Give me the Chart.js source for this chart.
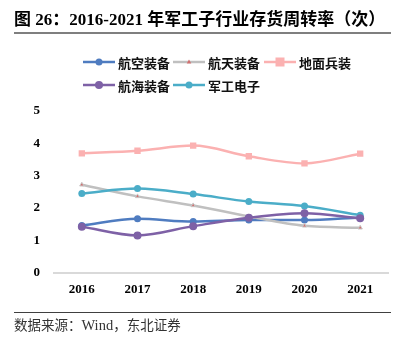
<!DOCTYPE html>
<html>
<head>
<meta charset="utf-8">
<script src="https://cdn.jsdelivr.net/npm/chart.js@4"></script>
<style>
  html, body { margin: 0; padding: 0; background: #fff; }
  #wrap { position: relative; width: 401px; height: 346px; overflow: hidden; }
  #title { position: absolute; left: 14px; top: 5px; font: bold 17px "Liberation Serif", "Noto Sans CJK SC", serif; color: #000; white-space: nowrap; }
  #title .cjk { font-family: "Noto Sans CJK SC", sans-serif; font-weight: bold; }
  #rule1 { position: absolute; left: 14px; top: 32px; width: 377px; height: 0; border-top: 2px solid #7f7f7f; }
  #rule2 { position: absolute; left: 14px; top: 312px; width: 377px; height: 0; border-top: 1px solid #404040; }
  #source { position: absolute; left: 14px; top: 314px; font: 13.5px "Noto Sans CJK SC", sans-serif; color: #333; white-space: nowrap; }
  #source .lat { font-family: "Liberation Serif", serif; font-size: 14.5px; }
  #legend { position: absolute; left: 0; top: 0; width: 401px; height: 100px; }
  .item { position: absolute; height: 16px; display: flex; align-items: center; }
  .item canvas { display: block; }
  .item span { margin-left: 3px; font: bold 13px "Noto Sans CJK SC", sans-serif; color: #111; white-space: nowrap; }
  #chartBox { position: absolute; left: 0; top: 0; width: 401px; height: 346px; }
</style>
</head>
<body>
<div id="wrap">
  <div id="chartBox"><canvas id="c" width="401" height="346"></canvas></div>
  <div id="title"><span class="cjk">图</span> 26<span class="cjk">：</span>2016-2021 <span class="cjk">年军工子行业存货周转率（次）</span></div>
  <div id="rule1"></div>
  <div id="legend"></div>
  <div id="rule2"></div>
  <div id="source">数据来源：<span class="lat">Wind</span>，东北证券</div>
</div>
<script>
// Years on the category axis
const years = ['2016', '2017', '2018', '2019', '2020', '2021'];

// Inventory turnover (times) by sub-sector
const aviation   = [1.46, 1.67, 1.58, 1.63, 1.63, 1.71]; // 航空装备
const aerospace  = [2.72, 2.36, 2.08, 1.74, 1.45, 1.39]; // 航天装备
const groundArms = [3.69, 3.77, 3.93, 3.60, 3.38, 3.68]; // 地面兵装
const naval      = [1.42, 1.15, 1.44, 1.70, 1.84, 1.68]; // 航海装备
const electronics= [2.45, 2.60, 2.43, 2.20, 2.06, 1.78]; // 军工电子

// Y axis ticks
const yTicks = [0, 1, 2, 3, 4, 5];

const series = [
  { name: '航空装备', data: aviation,    color: '#4f7cc0', style: 'circle',   r: 3.5, pointColor: '#4f7cc0' },
  { name: '航天装备', data: aerospace,   color: '#c0c0c0', style: 'triangle', r: 2.5, pointColor: '#d07070' },
  { name: '地面兵装', data: groundArms,  color: '#fbb1b1', style: 'rect',     r: 4.5, pointColor: '#fbb1b1' },
  { name: '航海装备', data: naval,       color: '#7e61a6', style: 'circle',   r: 4,   pointColor: '#7e61a6' },
  { name: '军工电子', data: electronics, color: '#4badc8', style: 'circle',   r: 3.5, pointColor: '#4badc8' }
];

const datasets = series.map((s, i) => ({
  label: s.name,
  data: s.data,
  borderColor: s.color,
  backgroundColor: s.pointColor,
  pointBorderColor: s.style === 'triangle' ? '#c8c8c8' : s.pointColor,
  pointBackgroundColor: s.pointColor,
  pointStyle: s.style,
  pointRadius: s.r,
  pointBorderWidth: s.style === 'triangle' ? 1 : 0,
  borderWidth: 2.5,
  tension: 0.4,
  cubicInterpolationMode: 'monotone',
  order: [4, 3, 5, 1, 2][i]
}));

new Chart(document.getElementById('c'), {
  type: 'line',
  data: { labels: years, datasets },
  options: {
    responsive: false,
    animation: false,
    layout: { padding: { left: 0, right: 13, top: 111, bottom: 0 } },
    plugins: { legend: { display: false }, tooltip: { enabled: false } },
    scales: {
      x: {
        offset: true,
        grid: { display: false },
        border: { display: true, color: '#d9d9d9', width: 2 },
        ticks: { color: '#000', padding: 1, font: { family: 'Liberation Serif', weight: 'bold', size: 13 } },
        afterFit: (s) => { s.height = 73.3; }
      },
      y: {
        min: 0, max: 5,
        afterBuildTicks: (s) => { s.ticks = yTicks.map(v => ({ value: v })); },
        grid: { display: false },
        border: { display: false },
        ticks: { color: '#000', padding: 6, font: { family: 'Liberation Serif', weight: 'bold', size: 13 } },
        afterFit: (s) => { s.width = 54; }
      }
    }
  }
});

// Legend: line sample with marker, arranged in two rows
const legend = document.getElementById('legend');
const slots = [[83, 54], [173, 54], [264, 54], [83, 77], [173, 77]];
series.forEach((s, i) => {
  const div = document.createElement('div');
  div.className = 'item';
  div.style.left = slots[i][0] + 'px';
  div.style.top = slots[i][1] + 'px';
  const cv = document.createElement('canvas');
  cv.width = 32; cv.height = 16;
  const g = cv.getContext('2d');
  g.strokeStyle = s.color; g.lineWidth = 2.5;
  g.beginPath(); g.moveTo(0, 8); g.lineTo(32, 8); g.stroke();
  g.fillStyle = s.pointColor;
  if (s.style === 'circle') { g.beginPath(); g.arc(16, 8, s.r, 0, Math.PI * 2); g.fill(); }
  else if (s.style === 'rect') { g.fillRect(16 - s.r, 8 - s.r, s.r * 2, s.r * 2); }
  else { g.beginPath(); g.moveTo(16, 5.5); g.lineTo(18.3, 9.5); g.lineTo(13.7, 9.5); g.closePath(); g.fill(); }
  const sp = document.createElement('span');
  sp.textContent = s.name;
  div.appendChild(cv); div.appendChild(sp);
  legend.appendChild(div);
});
</script>
</body>
</html>
